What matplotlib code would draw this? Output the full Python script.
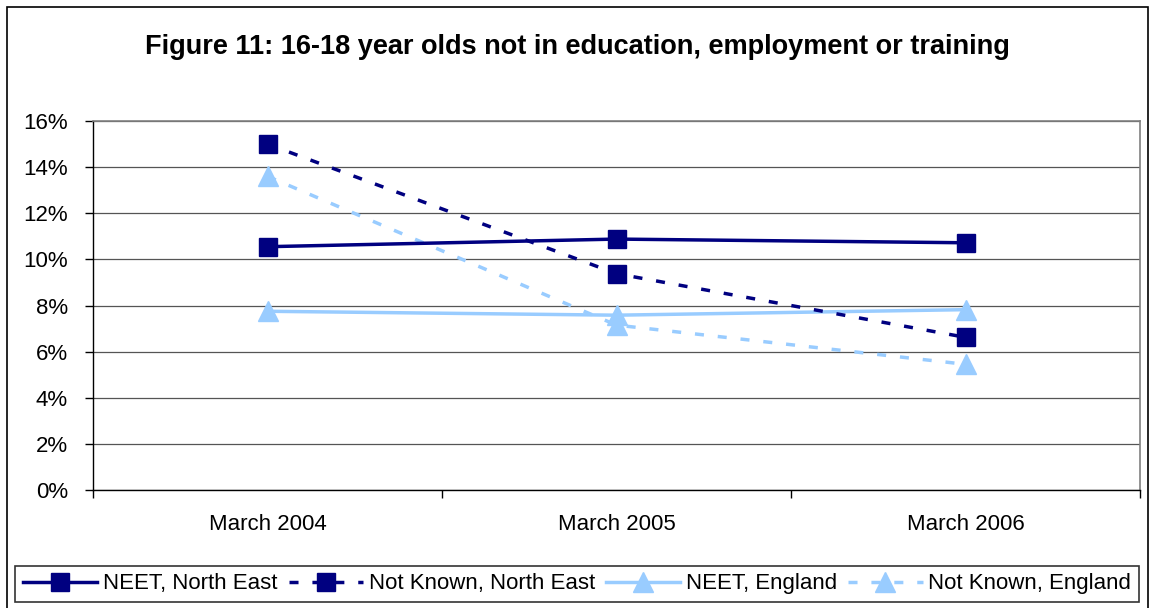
import matplotlib

matplotlib.use('Agg')
import matplotlib.pyplot as plt
from matplotlib.patches import Rectangle
from matplotlib.ticker import FixedLocator, FuncFormatter

plt.rcParams['font.family'] = ['Liberation Sans', 'DejaVu Sans']

# Data: share of 16-18 year olds (%)
periods = ['March 2004', 'March 2005', 'March 2006']
neet_north_east = [10.55, 10.88, 10.72]
not_known_north_east = [15.0, 9.38, 6.62]
neet_england = [7.75, 7.58, 7.82]
not_known_england = [13.6, 7.15, 5.45]

navy = '#000080'
light_blue = '#99CCFF'

fig = plt.figure(figsize=(11.5, 6.08), dpi=100)
ax = fig.add_axes([93 / 1150, 1 - 490 / 608, (1140 - 93) / 1150, (490 - 121) / 608])

x = list(range(len(periods)))

ax.plot(x, neet_north_east, color=navy, lw=2.5, marker='s', ms=13,
        label='NEET, North East', zorder=4)
ax.plot(x, not_known_north_east, color=navy, lw=2.5, marker='s', ms=13,
        dashes=(2.6, 4.0), label='Not Known, North East', zorder=4)
ax.plot(x, neet_england, color=light_blue, lw=2.5, marker='^', ms=15,
        label='NEET, England', zorder=3)
ax.plot(x, not_known_england, color=light_blue, lw=2.5, marker='^', ms=15,
        dashes=(2.6, 4.0), label='Not Known, England', zorder=3)

# axes limits and grid
ax.set_xlim(-0.5, 2.5)
ax.set_ylim(0, 16)
ax.set_yticks(range(0, 17, 2))
ax.yaxis.set_major_formatter(FuncFormatter(lambda v, p: f'{v:.0f}%'))
ax.yaxis.grid(True, color='#555555', lw=0.9)
ax.set_axisbelow(True)

# category labels centred, tick marks between categories
ax.set_xticks(x)
ax.set_xticklabels(periods)
ax.xaxis.set_minor_locator(FixedLocator([-0.5, 0.5, 1.5, 2.5]))
ax.tick_params(axis='x', which='major', length=0, pad=17, labelsize=16)
ax.tick_params(axis='x', which='minor', length=6, width=1, direction='out')
ax.tick_params(axis='y', length=6, width=1, direction='out', pad=12, labelsize=16)

for side in ['top', 'right']:
    ax.spines[side].set_color('#808080')
    ax.spines[side].set_linewidth(1.2)
for side in ['left', 'bottom']:
    ax.spines[side].set_color('black')
    ax.spines[side].set_linewidth(1)

fig.text(577 / 1150, 1 - 47 / 608,
         'Figure 11: 16-18 year olds not in education, employment or training',
         ha='center', va='center', fontsize=19.5, fontweight='bold')

leg = fig.legend(loc='center', bbox_to_anchor=(577 / 1150, 1 - 584 / 608),
                 ncol=4, fontsize=16, frameon=True, fancybox=False,
                 edgecolor='black', handlelength=3.35, handletextpad=0.25,
                 columnspacing=0.5, borderpad=0.35, borderaxespad=0)
leg.get_frame().set_linewidth(1.2)

# outer chart border
fig.patches.append(Rectangle((7 / 1150, -0.01), 1141 / 1150, 1.0 - 7 / 608 + 0.01,
                             transform=fig.transFigure, fill=False,
                             edgecolor='black', lw=1.2))

fig.savefig('out.png', dpi=100)
